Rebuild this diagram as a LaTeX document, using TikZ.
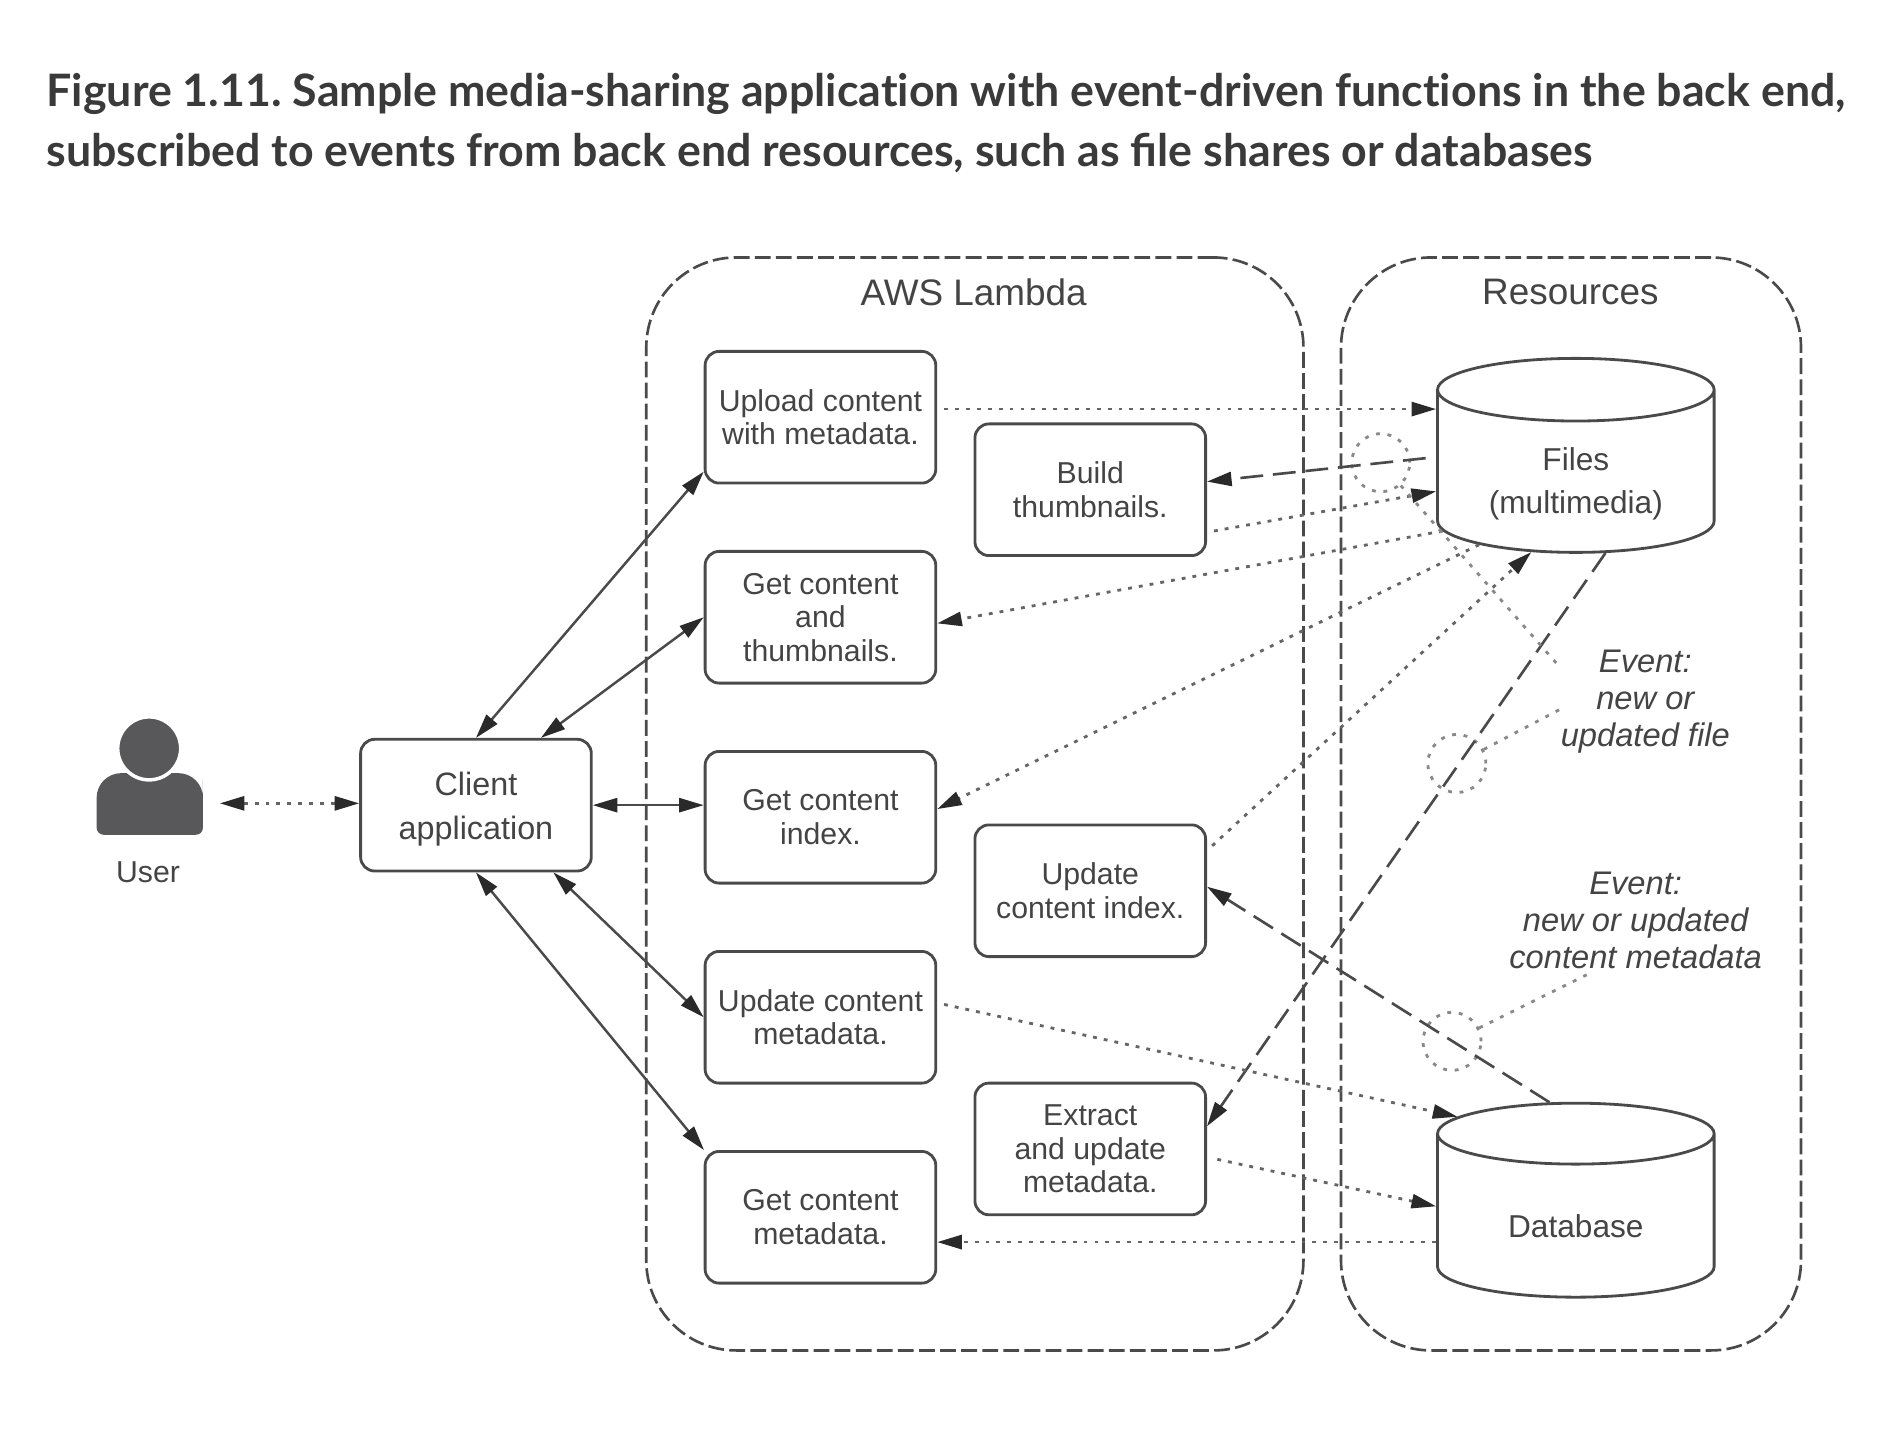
\documentclass[tikz,border=0pt]{standalone}
\usepackage{xcolor}
\usepackage{fontspec}
\setmainfont{Liberation Sans}
\newfontfamily\titlefont{Lato}
\usepackage{tikz}
\usetikzlibrary{shapes.geometric, arrows.meta, positioning}
\definecolor{inkgray}{HTML}{444444}
\definecolor{linegray}{HTML}{4A4A4A}
\definecolor{tipgray}{HTML}{2A2A2A}
\definecolor{titlegray}{HTML}{3A3A3A}
\definecolor{icongray}{HTML}{58585A}
\tikzstyle{block} = [rectangle, draw=linegray, line width=0.8pt, text=inkgray, rounded corners=4pt, align=center, inner sep=0pt,
    minimum width=2.307cm, minimum height=1.317cm, font=\fontsize{8.6}{9.5}\selectfont]
\tikzstyle{store} = [cylinder, draw=linegray, line width=0.8pt, text=inkgray, shape border rotate=90, aspect=0.45, align=center,
    inner sep=0pt, minimum width=2.766cm, minimum height=1.94cm, font=\fontsize{9}{12}\selectfont]
\tikzstyle{region} = [rectangle, draw=linegray, line width=0.75pt, dash pattern=on 4.5pt off 1.5pt, rounded corners=0.9cm, inner sep=0pt]
\tikzstyle{event} = [circle, draw=linegray!65, line width=0.8pt, dash pattern=on 1.1pt off 2.2pt, minimum size=0.58cm, inner sep=0pt]
\tikzstyle{eventtext} = [text=inkgray, align=center, inner sep=0pt, font=\fontsize{9.3}{10.5}\selectfont\itshape]
\tikzstyle{regiontext} = [text=inkgray, inner sep=0pt, font=\fontsize{10.5}{12}\selectfont]
\tikzstyle{solidline} = [draw=linegray, line width=0.7pt, <->]
\tikzstyle{dotline} = [draw=linegray!85, line width=0.8pt, dash pattern=on 1.1pt off 2pt, ->]
\tikzstyle{dashline} = [draw=linegray, line width=0.75pt, dash pattern=on 6.5pt off 2.8pt, ->]
\tikzstyle{eventline} = [draw=linegray!65, line width=0.8pt, dash pattern=on 1.1pt off 2.2pt]
\begin{document}
\begin{tikzpicture}[x=0.1208mm, y=-0.1208mm, node distance=0.655cm,
    >={Triangle[length=7pt, width=4pt, color=tipgray]}]
      \useasboundingbox (0,0) rectangle (1567.9,1197);
      % Title
      \node [anchor=north west, inner sep=0pt, align=left, text=titlegray, font=\titlefont\bfseries\frenchspacing\fontsize{12.72}{17.2}\selectfont] (title) at (38,60)
        {Figure 1.11. Sample media-sharing applicat\kern0pt ion with event-driven funct\kern0pt ions in the back end,\\subscribed to events from back end resources, such as file shares or databases};
      % Regions
      \node [region, minimum width=6.572cm, minimum height=10.93cm] (lambda) at (807,665.5) {};
      \node [region, minimum width=4.6cm, minimum height=10.93cm] (resources) at (1300.5,665.5) {};
      \node [regiontext] (lambdatext) at (806,242) {AWS Lambda};
      \node [regiontext] (resourcestext) at (1300,242) {Resources};
      % User
      \fill [icongray, rounded corners=2pt] (80,691) -- (80,665) [rounded corners=7pt] -- (80,640) -- (168,640) -- (168,665) [rounded corners=2pt] -- (168,691) -- cycle;
      \node [circle, fill=icongray, draw=white, line width=1pt, minimum size=0.63cm, inner sep=0pt] (head) at (123.5,619.5) {};
      \node [text=inkgray, inner sep=0pt, font=\fontsize{8.6}{10}\selectfont] (user) at (122.5,722) {User};
      \coordinate (useredge) at (182,665);
      % Blocks
      \node [block, font=\fontsize{9.2}{12.4}\selectfont] (client) at (394,666.5) {\rule{0pt}{8.8pt}Client\\application};
      \node [block, right=1.11cm of client, yshift=-0.121cm] (index) {Get content\\index.};
      \node [block, above=of index] (thumbs) {Get content\\and\\thumbnails.};
      \node [block, above=of thumbs] (upload) {Upload content\\with metadata.};
      \node [block, below=of index] (updmeta) {Update content\\metadata.};
      \node [block, below=of updmeta] (getmeta) {Get content\\metadata.};
      \node [block, right=0.363cm of upload, yshift=-0.725cm] (build) {Build\\thumbnails.};
      \node [block, right=0.363cm of index, yshift=-0.735cm] (updidx) {Update\\content index.};
      \node [block, right=0.363cm of updmeta, yshift=-1.317cm] (extract) {Extract\\and update\\metadata.};
      % Stores
      \node [store, inner ysep=-3.1pt, aspect=0.36] (files) at (1304.5,390.5) {\rule{0pt}{13.4pt}Files\\(multimedia)};
      \node [store, below=5.48cm of files] (db) {\rule{0pt}{12.4pt}Database};
      % Events
      \node [event] (evone) at (1143,383) {};
      \node [event] (evtwo) at (1206,632) {};
      \node [event] (evthree) at (1202,862) {};
      \node [eventtext] (evfile) at (1362,581) {Event:\\new or\\updated file};
      \node [eventtext] (evmeta) at (1354,762) {Event:\\new or updated\\content metadata};
      % Draw edges
      \path [dotline, <->] (useredge) -- (client.west |- useredge);
      \path [solidline] (client.north) -- (upload.205);
      \path [solidline] (client.46) -- (thumbs.west);
      \path [solidline] (client.east) -- (client.east -| index.west);
      \path [solidline] (client.-41) -- (updmeta.west);
      \path [solidline] (client.south) -- (getmeta.150);
      \path [dotline, shorten <=2pt] (upload.4) -- (upload.4 -| files.west);
      \path [dashline, shorten <=3pt] (files.174) -- (build.4);
      \path [dotline, shorten <=2pt] (build.-20) -- (files.188);
      \path [dotline] (files.204) -- (thumbs.-3);
      \path [dotline] (files.217) -- (index.4);
      \path [dotline, shorten <=2pt] (updidx.19) -- (files.241);
      \path [dashline] (files.-70) -- (extract.11);
      \path [dotline, shorten <=2pt] (updmeta.7) -- (db.140);
      \path [dashline] (db.103) -- (updidx.2);
      \path [dotline, shorten <=3pt] (extract.-4) -- (db.176);
      \path [dotline] (getmeta.-12 -| db.west) -- (getmeta.-12);
      \path [eventline] (evone) -- (evfile.158);
      \path [eventline] (evtwo) -- (evfile.185);
      \path [eventline, shorten >=3pt] (evthree) -- (evmeta.232);
    \end{tikzpicture}
\end{document}
